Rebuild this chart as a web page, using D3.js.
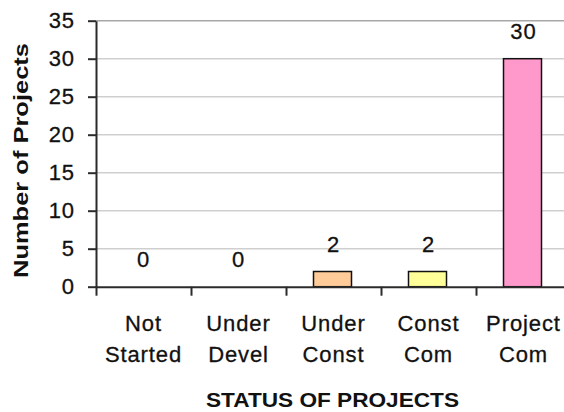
<!DOCTYPE html>
<html>
<head>
<meta charset="utf-8">
<script src="https://cdn.jsdelivr.net/npm/d3@7"></script>
<style>
  body { margin: 0; background: #fff; }
  text { font-family: "Liberation Sans", Arial, sans-serif; fill: #111; }
  .tickLabel, .valueLabel, .axis text { font-size: 22px; letter-spacing: 0.9px; stroke: #111; stroke-width: 0.3px; }
  .axisTitle { font-weight: bold; font-size: 21px; }
  .gridLine { stroke: #cfcfcf; stroke-width: 1.5; }
  .gridTop { stroke: #a8a8a8; }
  .axis path, .axis line { stroke: #2b2b2b; stroke-width: 2; }
  .bar { stroke: #111; stroke-width: 1.5; }
</style>
</head>
<body>
<script>
(function(){

//chart data
var categories = ["Not Started", "Under Devel", "Under Const", "Const Com", "Project Com"];
var labelLines = [["Not", "Started"], ["Under", "Devel"], ["Under", "Const"], ["Const", "Com"], ["Project", "Com"]];
var projects = [0, 0, 2, 2, 30];
var yTicks = [0, 5, 10, 15, 20, 25, 30, 35];
var barColors = ["#9999ff", "#993366", "#ffcc99", "#ffff99", "#ff99cc"];

//frame
var width = 564,
    height = 412,
    plotLeft = 96,
    plotRight = 571,
    plotTop = 20.7,
    plotBottom = 286.7;

var svg = d3.select("body")
    .append("svg")
    .attr("width", width)
    .attr("height", height);

//scales
var x = d3.scaleBand()
    .domain(categories)
    .range([plotLeft, plotRight])
    .padding(0);

var xEdges = d3.scaleLinear()
    .domain([0, categories.length])
    .range([plotLeft, plotRight]);

var y = d3.scaleLinear()
    .domain([0, 35])
    .range([plotBottom, plotTop]);

//gridlines
svg.selectAll(".gridLine")
    .data(yTicks.filter(function(d){ return d > 0; }))
    .enter()
    .append("line")
    .attr("class", function(d){ return d === 35 ? "gridLine gridTop" : "gridLine"; })
    .attr("x1", plotLeft)
    .attr("x2", plotRight)
    .attr("y1", function(d){ return y(d); })
    .attr("y2", function(d){ return y(d); });

//bars
var barWidth = x.bandwidth() * 0.4;
svg.selectAll(".bar")
    .data(projects)
    .enter()
    .append("rect")
    .attr("class", "bar")
    .attr("x", function(d, i){ return x(categories[i]) + (x.bandwidth() - barWidth) / 2 - 1; })
    .attr("width", barWidth)
    .attr("y", function(d){ return y(d); })
    .attr("height", function(d){ return y(0) - y(d); })
    .style("fill", function(d, i){ return barColors[i]; });

//value labels
svg.selectAll(".valueLabel")
    .data(projects)
    .enter()
    .append("text")
    .attr("class", "valueLabel")
    .attr("text-anchor", "middle")
    .attr("x", function(d, i){ return x(categories[i]) + x.bandwidth() / 2; })
    .attr("y", function(d){ return y(d) - 20; })
    .text(function(d){ return d; });

//y axis
svg.append("g")
    .attr("class", "axis")
    .attr("transform", "translate(" + plotLeft + ",0)")
    .call(d3.axisLeft(y).tickValues(yTicks).tickSize(8).tickSizeOuter(0).tickPadding(13))
    .selectAll("text")
    .attr("dy", "0.3em");

//x axis (ticks between categories)
svg.append("g")
    .attr("class", "axis")
    .attr("transform", "translate(0," + plotBottom + ")")
    .call(d3.axisBottom(xEdges).tickValues(d3.range(categories.length + 1)).tickFormat("").tickSize(9).tickSizeOuter(0));

//category labels
var catLabels = svg.selectAll(".tickLabel")
    .data(labelLines)
    .enter()
    .append("text")
    .attr("class", "tickLabel")
    .attr("text-anchor", "middle");

catLabels.selectAll("tspan")
    .data(function(d, i){ return d.map(function(t){ return {t: t, i: i}; }); })
    .enter()
    .append("tspan")
    .attr("x", function(d){ return x(categories[d.i]) + x.bandwidth() / 2; })
    .attr("y", function(d, j){ return 331 + j * 31; })
    .text(function(d){ return d.t; });

//axis titles
svg.append("text")
    .attr("class", "axisTitle")
    .attr("text-anchor", "middle")
    .attr("transform", "translate(27.5,160.5) rotate(-90)")
    .attr("textLength", 235)
    .attr("lengthAdjust", "spacingAndGlyphs")
    .text("Number of Projects");

svg.append("text")
    .attr("class", "axisTitle")
    .attr("text-anchor", "middle")
    .style("font-size", "20px")
    .attr("x", 332.5)
    .attr("y", 406.5)
    .attr("textLength", 253)
    .attr("lengthAdjust", "spacingAndGlyphs")
    .text("STATUS OF PROJECTS");

})();
</script>
</body>
</html>
